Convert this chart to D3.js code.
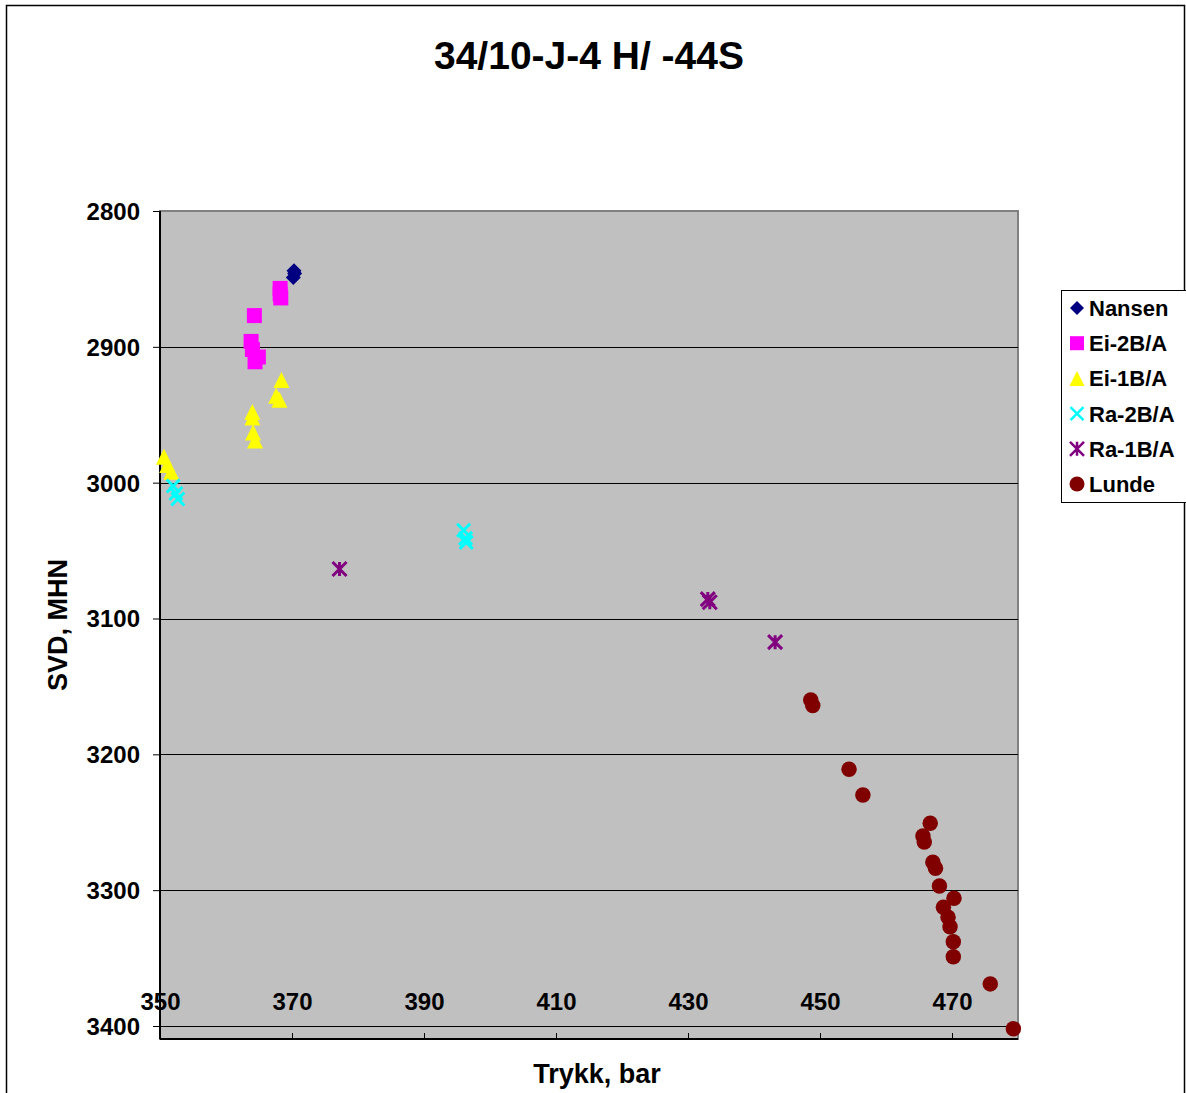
<!DOCTYPE html>
<html>
<head>
<meta charset="utf-8">
<script src="https://cdn.jsdelivr.net/npm/d3@7"></script>
<style>
  body { margin: 0; background: #fff; }
  text { font-family: "Liberation Sans", Arial, sans-serif; font-weight: bold; fill: #000; }
</style>
</head>
<body>
<script>
// series data: [trykk (bar), SVD (m)]
var nansen = [[370.3, 2844], [370.4, 2846], [370.2, 2849]];
var ei2b = [[368.2, 2857], [368.2, 2861], [368.3, 2864], [364.3, 2877],
            [363.8, 2896], [364.0, 2902], [364.9, 2907.5], [364.4, 2911]];
var ei1b = [[368.4, 2924.5], [367.6, 2936], [368.1, 2939], [364.0, 2948], [364.0, 2952],
            [364.1, 2963], [364.4, 2969], [350.6, 2981], [351.1, 2987], [351.7, 2992]];
var ra2b = [[352.0, 3002.5], [352.4, 3008], [352.7, 3012],
            [396.0, 3035], [396.3, 3041], [396.4, 3044]];
var ra1b = [[377.2, 3063.6], [433.0, 3085.7], [433.3, 3088], [443.2, 3117.4]];
var lunde = [[448.6, 3160], [448.9, 3164], [454.4, 3211], [456.5, 3230],
             [466.7, 3250.7], [465.6, 3260.2], [465.8, 3264.6], [467.1, 3279.4], [467.5, 3283.8],
             [468.1, 3297], [470.3, 3306], [468.7, 3312.5], [469.4, 3320], [469.7, 3327],
             [470.2, 3338], [470.2, 3349], [475.8, 3369], [479.3, 3402]];

var seriesNames = ["Nansen", "Ei-2B/A", "Ei-1B/A", "Ra-2B/A", "Ra-1B/A", "Lunde"];
var seriesData = [nansen, ei2b, ei1b, ra2b, ra1b, lunde];
var seriesColors = ["#000080", "#FF00FF", "#FFFF00", "#00FFFF", "#800080", "#800000"];
var seriesShapes = ["diamond", "square", "triangle", "x", "star", "circle"];

var xTicks = [350, 370, 390, 410, 430, 450, 470];
var yTicks = [2800, 2900, 3000, 3100, 3200, 3300, 3400];

var width = 1186, height = 1093;
var svg = d3.select("body").append("svg")
    .attr("width", width)
    .attr("height", height);

// chart frame
svg.append("rect")
    .attr("x", 6.5).attr("y", 5.5)
    .attr("width", 1178).attr("height", 1110)
    .attr("fill", "#fff").attr("stroke", "#000").attr("stroke-width", 1.5);

var plot = {left: 160, top: 211, right: 1018, bottom: 1039};

var x = d3.scaleLinear().domain([350, 480]).range([plot.left, plot.right]);
var y = d3.scaleLinear().domain([2800, 3400]).range([plot.top, 1026]);

svg.append("rect")
    .attr("x", plot.left).attr("y", plot.top)
    .attr("width", plot.right - plot.left).attr("height", plot.bottom - plot.top)
    .attr("fill", "#C0C0C0").attr("stroke", "#808080").attr("stroke-width", 2);

// gridlines
svg.append("g").selectAll("line")
    .data(yTicks.slice(1))
    .enter().append("line")
    .attr("x1", plot.left).attr("x2", plot.right)
    .attr("y1", function (d) { return Math.round(y(d)) + 0.5; })
    .attr("y2", function (d) { return Math.round(y(d)) + 0.5; })
    .attr("stroke", "#000").attr("stroke-width", 1);

// y axis
var yAxis = d3.axisLeft(y).tickValues(yTicks).tickFormat(d3.format("d")).tickSize(7).tickPadding(13);
var gy = svg.append("g").attr("transform", "translate(" + plot.left + ",0)").call(yAxis);
gy.select(".domain").attr("stroke", "#000").attr("stroke-width", 2)
    .attr("d", "M0," + plot.top + "V" + plot.bottom);
gy.selectAll(".tick text").style("font-size", "24px").attr("dy", "0.35em");

// x axis (ticks point up, labels sit inside the plot)
var xAxis = d3.axisBottom(x).tickValues(xTicks).tickFormat(d3.format("d")).tickSize(-6).tickPadding(0);
var gx = svg.append("g").attr("transform", "translate(0," + plot.bottom + ")").call(xAxis);
gx.select(".domain").attr("stroke", "#000").attr("stroke-width", 2)
    .attr("d", "M" + plot.left + ",0H" + plot.right);
gx.selectAll(".tick text").style("font-size", "24px").attr("y", -29).attr("dy", 0);

// marker shapes
function markerPath(shape, s) {
    var h = s / 2;
    if (shape === "diamond") return "M0," + (-h) + "L" + h + ",0L0," + h + "L" + (-h) + ",0Z";
    if (shape === "square") return "M" + (-h) + "," + (-h) + "h" + s + "v" + s + "h" + (-s) + "Z";
    if (shape === "triangle") return "M0," + (-h) + "L" + h + "," + h + "L" + (-h) + "," + h + "Z";
    if (shape === "x") return "M" + (-h) + "," + (-h) + "L" + h + "," + h + "M" + h + "," + (-h) + "L" + (-h) + "," + h;
    if (shape === "star") return "M" + (-h) + "," + (-h) + "L" + h + "," + h + "M" + h + "," + (-h) + "L" + (-h) + "," + h +
        "M0," + (-h) + "V" + h;
    return d3.symbol().type(d3.symbolCircle).size(Math.PI * h * h)();
}
var markerSize = {diamond: 15, square: 15, triangle: 16, x: 13, star: 14, circle: 15.5};

function drawMarker(sel, i) {
    var shape = seriesShapes[i];
    var stroked = shape === "x" || shape === "star";
    sel.attr("d", markerPath(shape, markerSize[shape]))
        .attr("fill", stroked ? "none" : seriesColors[i])
        .attr("stroke", stroked ? seriesColors[i] : "none")
        .attr("stroke-width", stroked ? 3 : 0);
}

seriesData.forEach(function (data, i) {
    svg.append("g").selectAll("path")
        .data(data)
        .enter().append("path")
        .attr("transform", function (d) { return "translate(" + x(d[0]) + "," + y(d[1]) + ")"; })
        .call(drawMarker, i);
});

// titles
svg.append("text").attr("x", 589).attr("y", 69).attr("text-anchor", "middle")
    .style("font-size", "39px").text("34/10-J-4 H/ -44S");
svg.append("text").attr("x", 597).attr("y", 1083).attr("text-anchor", "middle")
    .style("font-size", "27px").text("Trykk, bar");
svg.append("text").attr("transform", "translate(67,625) rotate(-90)").attr("text-anchor", "middle")
    .style("font-size", "27px").text("SVD, MHN");

// legend
var legend = svg.append("g");
legend.append("rect")
    .attr("x", 1061.5).attr("y", 290.5).attr("width", 130).attr("height", 212)
    .attr("fill", "#fff").attr("stroke", "#000").attr("stroke-width", 1);
var items = legend.selectAll("g.item")
    .data(seriesNames)
    .enter().append("g")
    .attr("transform", function (d, i) { return "translate(1077," + (308 + i * 35.2) + ")"; });
items.append("path").each(function (d, i) {
    var shape = seriesShapes[i];
    var s = {diamond: 14, square: 14, triangle: 15, x: 13, star: 14, circle: 15}[shape];
    var stroked = shape === "x" || shape === "star";
    d3.select(this).attr("d", markerPath(shape, s))
        .attr("fill", stroked ? "none" : seriesColors[i])
        .attr("stroke", stroked ? seriesColors[i] : "none")
        .attr("stroke-width", stroked ? 2.5 : 0);
});
items.append("text").attr("x", 12).attr("dy", "0.36em")
    .style("font-size", "22px").text(function (d) { return d; });
</script>
</body>
</html>
